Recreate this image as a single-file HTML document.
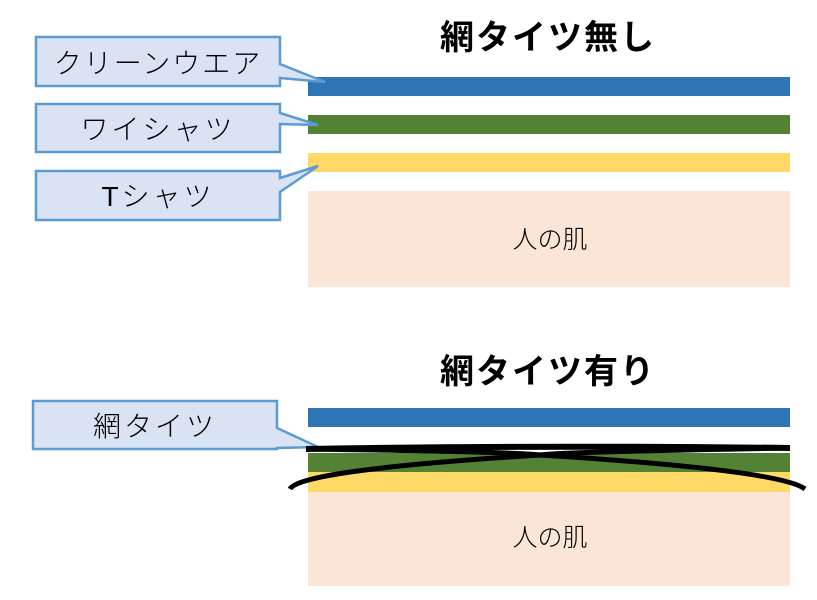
<!DOCTYPE html>
<html><head><meta charset="utf-8"><style>
body{margin:0;width:817px;height:600px;background:#fff;overflow:hidden;font-family:"Liberation Sans","Noto Sans CJK JP",sans-serif}
</style></head><body>
<svg width="817" height="600" xmlns="http://www.w3.org/2000/svg" style="position:absolute;left:0;top:0">
<g font-family="Liberation Sans, Noto Sans CJK JP, sans-serif">
<text x="548" y="49" font-size="34" font-weight="bold" letter-spacing="2" text-anchor="middle">網タイツ無し</text>
<rect x="308" y="77" width="482" height="19" fill="#2e75b6"/>
<rect x="308" y="115" width="482" height="19" fill="#548235"/>
<rect x="308" y="153" width="482" height="19" fill="#ffd966"/>
<rect x="308" y="191" width="482" height="96" fill="#fbe5d6"/>
<text x="550" y="248" font-size="25" font-weight="300" text-anchor="middle">人の肌</text>

<path d="M36,37 H280 V64 L325,82 L280,78 V86 H36 Z" fill="#dae3f3" stroke="#5b9bd5" stroke-width="2.5"/>
<text x="158" y="73" font-size="28" font-weight="300" letter-spacing="2" text-anchor="middle">クリーンウエア</text>
<path d="M36,104 H280 V113 L318,125 L280,124 V152 H36 Z" fill="#dae3f3" stroke="#5b9bd5" stroke-width="2.5"/>
<text x="158" y="139" font-size="28" font-weight="300" letter-spacing="3" text-anchor="middle">ワイシャツ</text>
<path d="M36,171 H280 V178 L318,166 L280,192 V220 H36 Z" fill="#dae3f3" stroke="#5b9bd5" stroke-width="2.5"/>
<text x="158" y="206" font-size="28" font-weight="300" letter-spacing="3" text-anchor="middle">Tシャツ</text>

<text x="548" y="383" font-size="34" font-weight="bold" letter-spacing="2" text-anchor="middle">網タイツ有り</text>
<rect x="308" y="408" width="482" height="19" fill="#2e75b6"/>
<rect x="308" y="453" width="482" height="19" fill="#548235"/>
<rect x="308" y="472" width="482" height="20" fill="#ffd966"/>
<rect x="308" y="492" width="482" height="94" fill="#fbe5d6"/>
<text x="550" y="546" font-size="25" font-weight="300" text-anchor="middle">人の肌</text>
<path d="M33,401 H277 V428 L318,447 L277,448 V449 H33 Z" fill="#dae3f3" stroke="#5b9bd5" stroke-width="2.5"/>
<text x="155" y="436" font-size="28" font-weight="300" letter-spacing="3" text-anchor="middle">網タイツ</text>

<path d="M306,449 Q540,445 790,448" fill="none" stroke="#000" stroke-width="6"/>
<path d="M290,489 Q300,470 540,455 Q780,470 805,489" fill="none" stroke="#000" stroke-width="5"/>
<path d="M306,449 Q520,452 540,455 Q560,452 790,448" fill="none" stroke="#000" stroke-width="5"/>
</g>
</svg>
</body></html>
